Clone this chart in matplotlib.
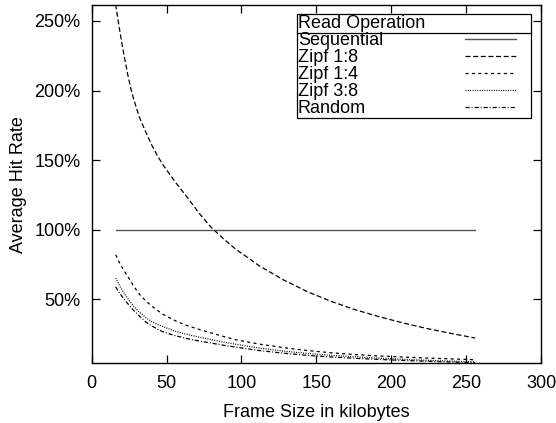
import matplotlib
matplotlib.use("Agg")
import matplotlib.pyplot as plt
from matplotlib.ticker import FuncFormatter
from matplotlib.lines import Line2D
from matplotlib.legend_handler import HandlerLine2D
import numpy as np

frame_kb = [16, 18, 20, 22, 24, 26, 28, 30, 32, 36, 40, 44, 48, 56, 64, 72, 80, 88, 96,
            112, 128, 144, 160, 176, 192, 208, 224, 240, 256]
sequential = [1.0] * len(frame_kb)
zipf_1_8 = [2.62, 2.48, 2.35, 2.23, 2.12, 2.02, 1.94, 1.87, 1.805, 1.705, 1.61, 1.53, 1.46,
            1.34, 1.23, 1.115, 1.015, 0.935, 0.862, 0.74, 0.64, 0.555, 0.485, 0.425,
            0.375, 0.33, 0.29, 0.255, 0.222]
zipf_1_4 = [0.82, 0.775, 0.735, 0.70, 0.665, 0.632, 0.595, 0.565, 0.535, 0.49, 0.452, 0.42,
            0.39, 0.345, 0.31, 0.283, 0.258, 0.233, 0.21, 0.178, 0.153, 0.132, 0.116,
            0.103, 0.093, 0.085, 0.078, 0.072, 0.066]
zipf_3_8 = [0.652, 0.61, 0.572, 0.538, 0.507, 0.478, 0.452, 0.428, 0.406, 0.37, 0.34, 0.32,
            0.302, 0.27, 0.247, 0.228, 0.21, 0.193, 0.177, 0.15, 0.128, 0.111, 0.098,
            0.087, 0.077, 0.069, 0.062, 0.056, 0.051]
random_ = [0.59, 0.555, 0.525, 0.496, 0.47, 0.445, 0.421, 0.40, 0.378, 0.338, 0.31, 0.285,
           0.265, 0.238, 0.217, 0.20, 0.185, 0.17, 0.157, 0.132, 0.113, 0.097, 0.086,
           0.076, 0.068, 0.061, 0.055, 0.05, 0.045]

labels = ["Sequential", "Zipf 1:8", "Zipf 1:4", "Zipf 3:8", "Random"]
x_ticks = [0, 50, 100, 150, 200, 250, 300]
y_ticks = [0.5, 1.0, 1.5, 2.0, 2.5]

plt.rcParams['font.family'] = ['Liberation Sans', 'DejaVu Sans']
plt.rcParams['font.size'] = 13
plt.rcParams['lines.scale_dashes'] = False

fig = plt.figure(figsize=(5.56, 4.23), dpi=100)
ax = fig.add_axes([0.1649, 0.1407, 0.8081, 0.8475])

lw = 0.9
ax.plot(frame_kb, sequential, color='#555555', lw=1.0, linestyle='-', label=labels[0])
ax.plot(frame_kb, zipf_1_8, color='black', lw=lw, linestyle=(0, (3.6, 1.9)), label=labels[1])
ax.plot(frame_kb, zipf_1_4, color='black', lw=lw, linestyle=(0, (2.2, 2.4)), label=labels[2])
ax.plot(frame_kb, zipf_3_8, color='black', lw=lw, linestyle=(0, (0.7, 1.0)), label=labels[3])
ax.plot(frame_kb, random_, color='black', lw=lw, linestyle=(0, (3.0, 1.4, 0.7, 1.4)), label=labels[4])

ax.set_xlim(0, 300)
ax.set_ylim(0.039, 2.615)
ax.set_xticks(x_ticks)
ax.set_yticks(y_ticks)
ax.yaxis.set_major_formatter(FuncFormatter(lambda v, p: f"{int(round(v*100))}%"))
ax.tick_params(direction='in', length=6, width=0.9, top=True, right=True)
ax.tick_params(axis='x', pad=8)
ax.tick_params(axis='y', pad=8)
for s in ax.spines.values():
    s.set_linewidth(1.0)

ax.set_xlabel("Frame Size in kilobytes", labelpad=9)
ax.set_ylabel("Average Hit Rate", labelpad=5)


class ShortLine(HandlerLine2D):
    trim = 10.0  # pixels left empty at the right end of the sample box

    def get_xdata(self, legend, xdescent, ydescent, width, height, fontsize):
        xd = np.array([-xdescent, -xdescent + width - self.trim])
        return xd, np.array([-xdescent + 0.5 * width])


fs_px = 13 * 100 / 72.0
leg = ax.legend(title="Read Operation", loc='upper right', bbox_to_anchor=(0.9777, 0.9749),
                markerfirst=False, handlelength=65 / fs_px, handletextpad=0.5,
                labelspacing=0.0, borderpad=0.06, borderaxespad=0.0,
                fancybox=False, framealpha=1.0, edgecolor='black',
                alignment='left', title_fontsize=13,
                handler_map={Line2D: ShortLine()})
leg.get_frame().set_linewidth(0.9)

item_width = 232.0
for col in leg._legend_handle_box.get_children():
    for item in col.get_children():
        item.mode = 'expand'
        item.width = item_width

fig.canvas.draw()
renderer = fig.canvas.get_renderer()
fb = leg.get_frame().get_window_extent(renderer)
tb = leg.get_title().get_window_extent(renderer)
inv = fig.transFigure.inverted()
y_sep = tb.y0 - 1
(x0f, yf) = inv.transform((fb.x0, y_sep))
(x1f, _) = inv.transform((fb.x1, y_sep))
fig.add_artist(Line2D([x0f, x1f], [yf, yf], transform=fig.transFigure, color='black', lw=0.9))

fig.savefig("out.png", dpi=100)
